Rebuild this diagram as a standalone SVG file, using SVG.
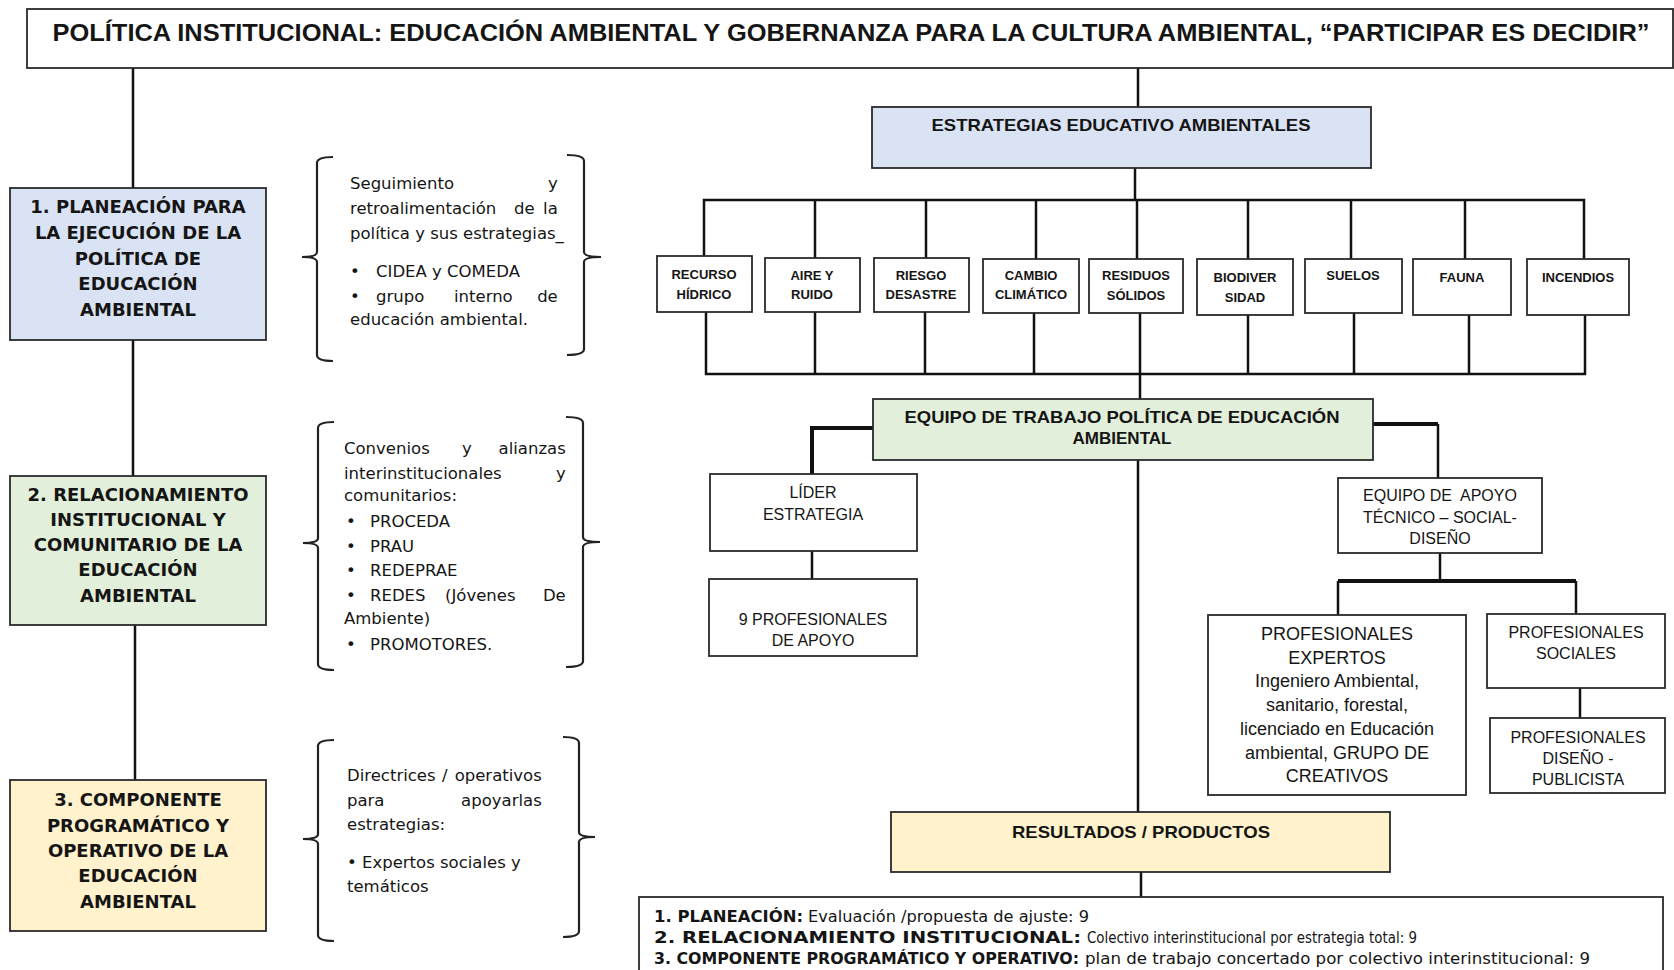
<svg xmlns="http://www.w3.org/2000/svg" width="1674" height="970" viewBox="0 0 1674 970">
<style>
.box{stroke:#2a2a2a;stroke-width:1.8;fill:#fff}
.blue{fill:#dae3f3}.green{fill:#e2efda}.yellow{fill:#fff2cc}
.ln{stroke:#111;stroke-width:2.5;fill:none}
.thk{stroke:#111;stroke-width:4;fill:none}
.br{stroke:#222;stroke-width:2.2;fill:none}
text{fill:#151515}
.t{font-family:"Liberation Sans",Arial,sans-serif;font-weight:bold}
.lb{font-family:"DejaVu Sans",Verdana,sans-serif;font-weight:bold;font-size:18px}
.bt{font-family:"DejaVu Sans",Verdana,sans-serif;font-size:16.5px}
.sb{font-family:"Liberation Sans",Arial,sans-serif;font-weight:bold;font-size:13px}
.r{font-family:"Liberation Sans",Arial,sans-serif;font-size:16px}
.r18{font-family:"Liberation Sans",Arial,sans-serif;font-size:18px}
.fb{font-family:"DejaVu Sans",Verdana,sans-serif;font-weight:bold;font-size:16px}
.fr{font-family:"DejaVu Sans",Verdana,sans-serif;font-size:15px}
</style>
<rect width="1674" height="970" fill="#fff"/>

<g id="connectors">
<line class="ln" x1="133" y1="68" x2="133" y2="188"/>
<line class="ln" x1="133" y1="340" x2="133" y2="476"/>
<line class="ln" x1="135" y1="625" x2="135" y2="780"/>
<line class="ln" x1="1138" y1="68" x2="1138" y2="107"/>
<line class="ln" x1="1135" y1="168" x2="1135" y2="200"/>
<polyline class="ln" points="704,258 704,200 1584,200 1584,259"/>
<line class="ln" x1="815" y1="200" x2="815" y2="258"/>
<line class="ln" x1="926" y1="200" x2="926" y2="258"/>
<line class="ln" x1="1036" y1="200" x2="1036" y2="259"/>
<line class="ln" x1="1137" y1="200" x2="1137" y2="259"/>
<line class="ln" x1="1248" y1="200" x2="1248" y2="259"/>
<line class="ln" x1="1351" y1="200" x2="1351" y2="259"/>
<line class="ln" x1="1465" y1="200" x2="1465" y2="259"/>
<polyline class="ln" points="706,312 706,374 1585,374 1585,315"/>
<line class="ln" x1="815" y1="312" x2="815" y2="374"/>
<line class="ln" x1="925" y1="312" x2="925" y2="374"/>
<line class="ln" x1="1034" y1="313" x2="1034" y2="374"/>
<line class="ln" x1="1140" y1="313" x2="1140" y2="374"/>
<line class="ln" x1="1248" y1="315" x2="1248" y2="374"/>
<line class="ln" x1="1354" y1="313" x2="1354" y2="374"/>
<line class="ln" x1="1469" y1="315" x2="1469" y2="374"/>
<line class="ln" x1="1140" y1="374" x2="1140" y2="399"/>
<line class="ln" x1="1138" y1="460" x2="1138" y2="812"/>
<polyline class="thk" points="873,428 812,428 812,474"/>
<line class="ln" x1="812" y1="428" x2="812" y2="474"/>
<polyline class="thk" points="1373,424 1438,424"/>
<line class="ln" x1="1438" y1="424" x2="1438" y2="478"/>
<line class="ln" x1="812" y1="551" x2="812" y2="579"/>
<line class="ln" x1="1440" y1="553" x2="1440" y2="581"/>
<line class="thk" x1="1338" y1="581" x2="1576" y2="581"/>
<line class="ln" x1="1338" y1="581" x2="1338" y2="615"/>
<line class="ln" x1="1576" y1="581" x2="1576" y2="614"/>
<line class="ln" x1="1580" y1="688" x2="1580" y2="718"/>
<line class="ln" x1="1141" y1="872" x2="1141" y2="897"/>
</g>

<g id="title">
<rect class="box" x="27" y="9" width="1646" height="59"/>
<text class="t" x="851" y="41" font-size="24" text-anchor="middle" textLength="1597" lengthAdjust="spacingAndGlyphs">POLÍTICA INSTITUCIONAL: EDUCACIÓN AMBIENTAL Y GOBERNANZA PARA LA CULTURA AMBIENTAL, “PARTICIPAR ES DECIDIR”</text>
</g>

<g id="n1">
<rect class="box blue" x="10" y="188" width="256" height="152"/>
<text class="lb" text-anchor="middle"><tspan x="138" y="213">1. PLANEACIÓN PARA</tspan><tspan x="138" y="239">LA EJECUCIÓN DE LA</tspan><tspan x="138" y="265">POLÍTICA DE</tspan><tspan x="138" y="290">EDUCACIÓN</tspan><tspan x="138" y="316">AMBIENTAL</tspan></text>
</g>
<g id="n2">
<rect class="box green" x="10" y="476" width="256" height="149"/>
<text class="lb" text-anchor="middle"><tspan x="138" y="501">2. RELACIONAMIENTO</tspan><tspan x="138" y="526">INSTITUCIONAL Y</tspan><tspan x="138" y="551">COMUNITARIO DE LA</tspan><tspan x="138" y="576">EDUCACIÓN</tspan><tspan x="138" y="602">AMBIENTAL</tspan></text>
</g>
<g id="n3">
<rect class="box yellow" x="10" y="780" width="256" height="151"/>
<text class="lb" text-anchor="middle"><tspan x="138" y="806">3. COMPONENTE</tspan><tspan x="138" y="832">PROGRAMÁTICO Y</tspan><tspan x="138" y="857">OPERATIVO DE LA</tspan><tspan x="138" y="882">EDUCACIÓN</tspan><tspan x="138" y="908">AMBIENTAL</tspan></text>
</g>

<g id="brace1">
<path class="br" d="M333,157 Q317,157 317,163 L317,252 Q317,257 302,257 Q317,257 317,262 L317,355 Q317,361 333,361"/>
<path class="br" d="M567,155 Q584,155 584,161 L584,252 Q584,257 601,257 Q584,257 584,262 L584,349 Q584,355 567,355"/>
<text class="bt">
<tspan x="350" y="189">Seguimiento</tspan><tspan x="563" y="189" text-anchor="end">y</tspan>
<tspan x="350" y="214">retroalimentación</tspan><tspan x="514" y="214">de</tspan><tspan x="563" y="214" text-anchor="end">la</tspan>
<tspan x="350" y="239">política y sus estrategias_</tspan>
<tspan x="350" y="277">•</tspan><tspan x="376" y="277">CIDEA y COMEDA</tspan>
<tspan x="350" y="302">•</tspan><tspan x="376" y="302">grupo</tspan><tspan x="454" y="302">interno</tspan><tspan x="563" y="302" text-anchor="end">de</tspan>
<tspan x="350" y="325">educación ambiental.</tspan>
</text>
</g>

<g id="brace2">
<path class="br" d="M334,422 Q318,422 318,428 L318,538 Q318,543 303,543 Q318,543 318,548 L318,664 Q318,670 334,670"/>
<path class="br" d="M566,417 Q583,417 583,423 L583,537 Q583,542 600,542 Q583,542 583,547 L583,661 Q583,667 566,667"/>
<text class="bt">
<tspan x="344" y="454">Convenios</tspan><tspan x="462" y="454">y</tspan><tspan x="571" y="454" text-anchor="end">alianzas</tspan>
<tspan x="344" y="479">interinstitucionales</tspan><tspan x="571" y="479" text-anchor="end">y</tspan>
<tspan x="344" y="501">comunitarios:</tspan>
<tspan x="346" y="527">•</tspan><tspan x="370" y="527">PROCEDA</tspan>
<tspan x="346" y="552">•</tspan><tspan x="370" y="552">PRAU</tspan>
<tspan x="346" y="576">•</tspan><tspan x="370" y="576">REDEPRAE</tspan>
<tspan x="346" y="601">•</tspan><tspan x="370" y="601">REDES</tspan><tspan x="445" y="601">(Jóvenes</tspan><tspan x="571" y="601" text-anchor="end">De</tspan>
<tspan x="344" y="624">Ambiente)</tspan>
<tspan x="346" y="650">•</tspan><tspan x="370" y="650">PROMOTORES.</tspan>
</text>
</g>

<g id="brace3">
<path class="br" d="M334,740 Q318,740 318,746 L318,834 Q318,839 303,839 Q318,839 318,844 L318,935 Q318,941 334,941"/>
<path class="br" d="M563,737 Q579,737 579,743 L579,832 Q579,837 595,837 Q579,837 579,842 L579,931 Q579,937 563,937"/>
<text class="bt">
<tspan x="347" y="781">Directrices</tspan><tspan x="442" y="781">/</tspan><tspan x="547" y="781" text-anchor="end">operativos</tspan>
<tspan x="347" y="806">para</tspan><tspan x="547" y="806" text-anchor="end">apoyarlas</tspan>
<tspan x="347" y="830">estrategias:</tspan>
<tspan x="347" y="868">• Expertos sociales y</tspan>
<tspan x="347" y="892">temáticos</tspan>
</text>
</g>

<g id="estrategias">
<rect class="box blue" x="872" y="107" width="499" height="61"/>
<text class="t" x="1121" y="131" font-size="17" text-anchor="middle" textLength="379" lengthAdjust="spacingAndGlyphs">ESTRATEGIAS EDUCATIVO AMBIENTALES</text>
</g>

<g id="s1"><rect class="box" x="657" y="256" width="95" height="56"/><text class="sb" text-anchor="middle"><tspan x="704" y="279">RECURSO</tspan><tspan x="704" y="299">HÍDRICO</tspan></text></g>
<g id="s2"><rect class="box" x="765" y="258" width="95" height="54"/><text class="sb" text-anchor="middle"><tspan x="812" y="280">AIRE Y</tspan><tspan x="812" y="299">RUIDO</tspan></text></g>
<g id="s3"><rect class="box" x="874" y="258" width="95" height="54"/><text class="sb" text-anchor="middle"><tspan x="921" y="280">RIESGO</tspan><tspan x="921" y="299">DESASTRE</tspan></text></g>
<g id="s4"><rect class="box" x="983" y="259" width="96" height="54"/><text class="sb" text-anchor="middle"><tspan x="1031" y="280">CAMBIO</tspan><tspan x="1031" y="299">CLIMÁTICO</tspan></text></g>
<g id="s5"><rect class="box" x="1089" y="259" width="94" height="54"/><text class="sb" text-anchor="middle"><tspan x="1136" y="280">RESIDUOS</tspan><tspan x="1136" y="300">SÓLIDOS</tspan></text></g>
<g id="s6"><rect class="box" x="1197" y="259" width="96" height="56"/><text class="sb" text-anchor="middle"><tspan x="1245" y="282">BIODIVER</tspan><tspan x="1245" y="302">SIDAD</tspan></text></g>
<g id="s7"><rect class="box" x="1305" y="259" width="97" height="54"/><text class="sb" text-anchor="middle"><tspan x="1353" y="280">SUELOS</tspan></text></g>
<g id="s8"><rect class="box" x="1413" y="259" width="98" height="56"/><text class="sb" text-anchor="middle"><tspan x="1462" y="282">FAUNA</tspan></text></g>
<g id="s9"><rect class="box" x="1527" y="259" width="102" height="56"/><text class="sb" text-anchor="middle"><tspan x="1578" y="282">INCENDIOS</tspan></text></g>

<g id="equipo">
<rect class="box green" x="873" y="399" width="500" height="61"/>
<text class="t" font-size="17" text-anchor="middle"><tspan x="1122" y="423" textLength="435" lengthAdjust="spacingAndGlyphs">EQUIPO DE TRABAJO POLÍTICA DE EDUCACIÓN</tspan><tspan x="1122" y="444">AMBIENTAL</tspan></text>
</g>

<g id="lider">
<rect class="box" x="710" y="474" width="207" height="77"/>
<text class="r" text-anchor="middle"><tspan x="813" y="498">LÍDER</tspan><tspan x="813" y="520">ESTRATEGIA</tspan></text>
</g>
<g id="profapoyo">
<rect class="box" x="709" y="579" width="208" height="77"/>
<text class="r" text-anchor="middle"><tspan x="813" y="625">9 PROFESIONALES</tspan><tspan x="813" y="646">DE APOYO</tspan></text>
</g>
<g id="equipoapoyo">
<rect class="box" x="1338" y="478" width="204" height="75"/>
<text class="r" text-anchor="middle"><tspan x="1440" y="501">EQUIPO DE&#160; APOYO</tspan><tspan x="1440" y="523">TÉCNICO – SOCIAL-</tspan><tspan x="1440" y="544">DISEÑO</tspan></text>
</g>
<g id="expertos">
<rect class="box" x="1208" y="615" width="258" height="180"/>
<text class="r18" text-anchor="middle"><tspan x="1337" y="640">PROFESIONALES</tspan><tspan x="1337" y="664">EXPERTOS</tspan><tspan x="1337" y="687">Ingeniero Ambiental,</tspan><tspan x="1337" y="711">sanitario, forestal,</tspan><tspan x="1337" y="735">licenciado en Educación</tspan><tspan x="1337" y="759">ambiental, GRUPO DE</tspan><tspan x="1337" y="782">CREATIVOS</tspan></text>
</g>
<g id="sociales">
<rect class="box" x="1487" y="614" width="178" height="74"/>
<text class="r" text-anchor="middle"><tspan x="1576" y="638">PROFESIONALES</tspan><tspan x="1576" y="659">SOCIALES</tspan></text>
</g>
<g id="diseno">
<rect class="box" x="1490" y="718" width="175" height="75"/>
<text class="r" text-anchor="middle"><tspan x="1578" y="743">PROFESIONALES</tspan><tspan x="1578" y="764">DISEÑO -</tspan><tspan x="1578" y="785">PUBLICISTA</tspan></text>
</g>

<g id="resultados">
<rect class="box yellow" x="891" y="812" width="499" height="60"/>
<text class="t" x="1141" y="838" font-size="17" text-anchor="middle" textLength="258" lengthAdjust="spacingAndGlyphs">RESULTADOS / PRODUCTOS</text>
</g>

<g id="productos">
<rect class="box" x="639" y="897" width="1024" height="100"/>
<text class="fb" x="654" y="922" textLength="149" lengthAdjust="spacingAndGlyphs">1. PLANEACIÓN:</text>
<text class="fr" x="808" y="922" textLength="281" lengthAdjust="spacingAndGlyphs">Evaluación /propuesta de ajuste: 9</text>
<text class="fb" x="654" y="943" textLength="427" lengthAdjust="spacingAndGlyphs">2. RELACIONAMIENTO INSTITUCIONAL:</text>
<text class="fr" x="1087" y="943" textLength="330" lengthAdjust="spacingAndGlyphs">Colectivo interinstitucional por estrategia total: 9</text>
<text class="fb" x="654" y="964" textLength="425" lengthAdjust="spacingAndGlyphs">3. COMPONENTE PROGRAMÁTICO Y OPERATIVO:</text>
<text class="fr" x="1085" y="964" textLength="505" lengthAdjust="spacingAndGlyphs">plan de trabajo concertado por colectivo interinstitucional: 9</text>
</g>
</svg>
